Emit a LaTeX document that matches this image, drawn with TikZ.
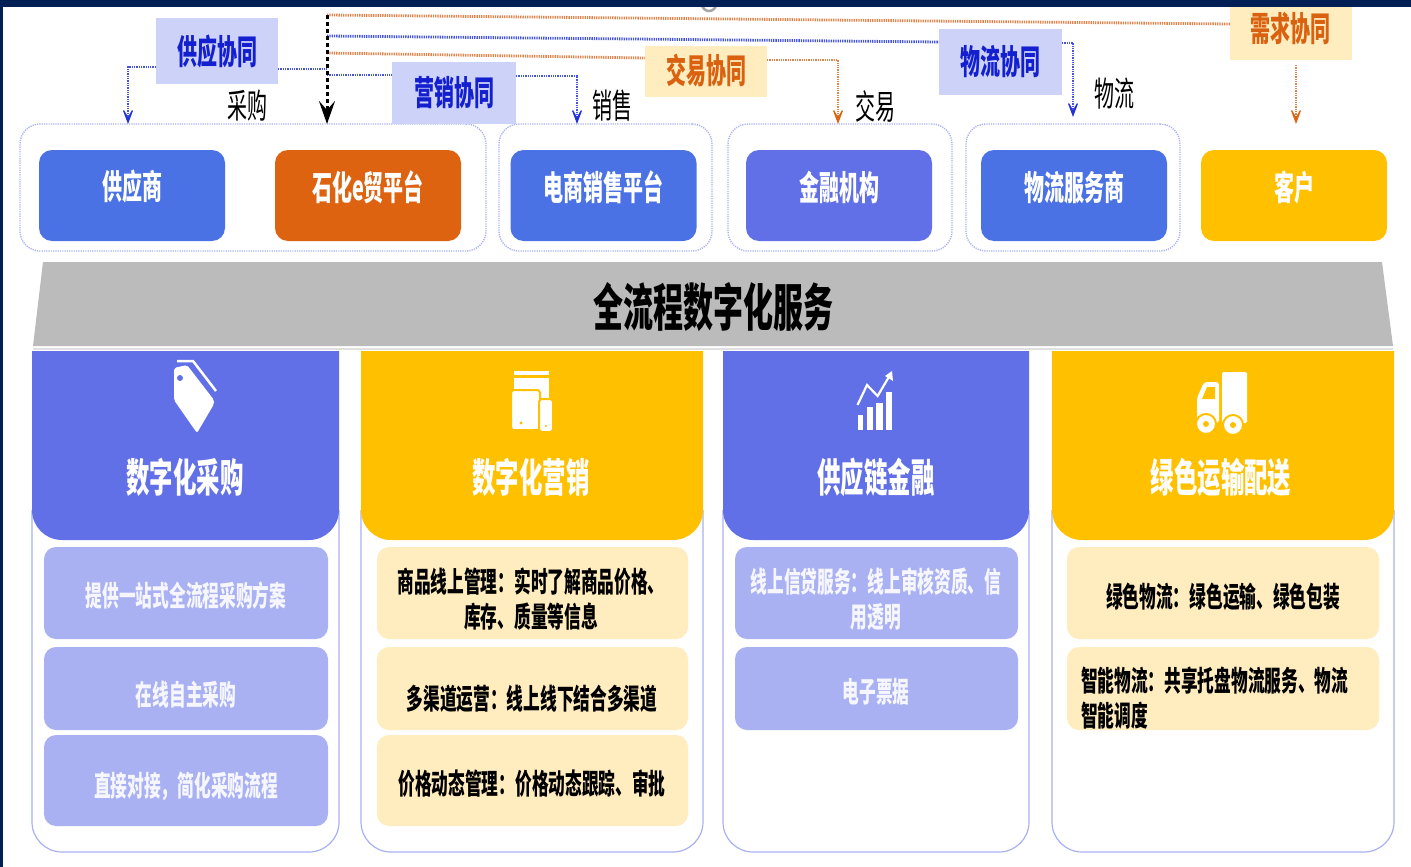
\documentclass[tikz,border=0pt]{standalone}
\usepackage{fontspec}
\setmainfont{Noto Sans CJK SC}
\usetikzlibrary{arrows.meta}
\definecolor{navy}{HTML}{001F55}
\definecolor{bluebox}{HTML}{4A72E4}
\definecolor{orangebox}{HTML}{DD6310}
\definecolor{indigobox}{HTML}{6270E8}
\definecolor{goldbox}{HTML}{FFC000}
\definecolor{lightindigo}{HTML}{A9B1F3}
\definecolor{cream}{HTML}{FFEDBF}
\definecolor{taglight}{HTML}{CDD3F8}
\definecolor{grayband}{HTML}{BBBBBB}
\definecolor{flowblue}{HTML}{4455DC}
\definecolor{floworange}{HTML}{E2844A}
\definecolor{tipblue}{HTML}{2233D8}
\definecolor{tiporange}{HTML}{DD6310}
\definecolor{tagblue}{HTML}{1420D0}
\definecolor{tagorange}{HTML}{D9610F}
\newcommand{\tallt}[1]{\scalebox{1}[1.7]{#1}}
\tikzset{
  x=1pt,y=-1pt,
  every node/.style={inner sep=0pt,outer sep=0pt},
  groupbox/.style={draw=lightindigo,line width=1.4pt,dash pattern=on 1.2pt off 1.1pt,rounded corners=20pt,anchor=north west},
  actor/.style={rounded corners=13pt,anchor=north west,minimum width=186pt,minimum height=91pt},
  actortext/.style={text=white,font=\fontsize{20}{24}\selectfont\bfseries},
  tagbox/.style={anchor=north west},
  tagtext/.style={font=\fontsize{20}{24}\selectfont\bfseries},
  lab/.style={font=\fontsize{20}{24}\selectfont,text=black},
  head/.style={text=white,font=\fontsize{23.4}{28}\selectfont\bfseries},
  itemtext/.style={font=\fontsize{16.7}{35}\selectfont\bfseries,align=center},
  flow/.style={line width=2.8pt,dash pattern=on 1.3pt off 1pt},
  tip/.style={-{Stealth[inset=13pt,length=20pt,width=15pt,line width=1.2pt,color=#1]}},
  card/.style={draw=lightindigo,line width=1.2pt,fill=white},
}
\begin{document}
\begin{tikzpicture}
\useasboundingbox (0,0) rectangle (1411,867);
\fill[white] (0,0) rectangle (1411,867);
\draw[gray!70,line width=2.5pt] (709,4) circle[radius=7];
\fill[navy] (0,0) rectangle (1411,7);
\fill[navy] (0,0) rectangle (3,867);

% dotted groups
\node[groupbox,minimum width=466pt,minimum height=127pt] (g1) at (20,124) {};
\node[groupbox,minimum width=213pt,minimum height=127pt] (g2) at (499,124) {};
\node[groupbox,minimum width=224pt,minimum height=127pt] (g3) at (728,124) {};
\node[groupbox,minimum width=214pt,minimum height=127pt] (g4) at (966,124) {};

% actors
\node[actor,fill=bluebox] (supplier) at (39,150) {};
\node[actor,fill=orangebox] (platform) at (275,150) {};
\node[actor,fill=bluebox] (ecom) at (510.5,150) {};
\node[actor,fill=indigobox] (bank) at (746,150) {};
\node[actor,fill=bluebox] (logi) at (981,150) {};
\node[actor,fill=goldbox] (client) at (1201,150) {};
\node[actortext] (supplierT) at ([yshift=8.5pt]supplier.center) {\tallt{供应商}};
\node[actortext] (platformT) at ([yshift=8.5pt]platform.center) {\tallt{石化e贸平台}};
\node[actortext] (ecomT) at ([yshift=8.5pt]ecom.center) {\tallt{电商销售平台}};
\node[actortext] (bankT) at ([yshift=8.5pt]bank.center) {\tallt{金融机构}};
\node[actortext] (logiT) at ([yshift=8.5pt]logi.center) {\tallt{物流服务商}};
\node[actortext] (clientT) at ([yshift=8.5pt]client.center) {\tallt{客户}};

% tags
\node[tagbox,fill=taglight,minimum width=122pt,minimum height=66pt] (tsupply) at (156,18) {};
\node[tagbox,fill=taglight,minimum width=124pt,minimum height=62pt] (tmarket) at (392,62) {};
\node[tagbox,fill=cream,minimum width=122pt,minimum height=51pt] (ttrade) at (645,46) {};
\node[tagbox,fill=taglight,minimum width=123pt,minimum height=66pt] (tlogi) at (939,29) {};
\node[tagbox,fill=cream,minimum width=122pt,minimum height=53pt] (tdemand) at (1230,7) {};
\node[tagtext,text=tagblue] (tsupplyT) at (217,52) {\tallt{供应协同}};
\node[tagtext,text=tagblue] (tmarketT) at (454,93) {\tallt{营销协同}};
\node[tagtext,text=tagorange] (ttradeT) at (706,70) {\tallt{交易协同}};
\node[tagtext,text=tagblue] (tlogiT) at (1000,62) {\tallt{物流协同}};
\node[tagtext,text=tagorange] (tdemandT) at (1290,28) {\tallt{需求协同}};

% labels
\node[lab] (lcg) at (247,106) {\tallt{采购}};
\node[lab] (lxs) at (612,106) {\tallt{销售}};
\node[lab] (ljy) at (875,107) {\tallt{交易}};
\node[lab] (lwl) at (1114,94) {\tallt{物流}};

% connectors
\coordinate (trunk) at (327,15);
\coordinate (trunkB) at (327,36);
\coordinate (trunkO) at (327,53);
\coordinate (trunkS) at (327,69);
\coordinate (trunkM) at (327,75);
\draw[flow,floworange] (trunk) -- (tdemand.west |- 0,24);
\draw[flow,flowblue] (trunkB) -- (tlogi.west |- 0,42);
\draw[flow,floworange] (trunkO) -- (ttrade.west |- 0,58);
\draw[flow,flowblue] (tsupply.east |- 0,69) -- (trunkS);
\draw[flow,flowblue] (trunkM) -- (tmarket.west |- 0,75);
\draw[flow,flowblue,tip=tipblue] (tsupply.west |- 0,67) -| (128,124);
\draw[flow,flowblue,tip=tipblue] (tmarket.east |- 0,76) -| (577,124);
\draw[flow,floworange,tip=tiporange] (ttrade.east |- 0,60) -| (838,124);
\draw[flow,flowblue,tip=tipblue] (tlogi.east |- 0,43) -| (1073,117);
\draw[flow,floworange,tip=tiporange] (1296,65) -- (1296,124);
\draw[line width=3pt,dash pattern=on 4pt off 3pt,black,-{Stealth[inset=9pt,length=23pt,width=16pt]}] (trunk) -- (g1.north -| trunk);

% banner
\fill[grayband] (43,262) -- (1382,262) -- (1393,346) -- (33,346) -- cycle;
\draw[black!12,line width=1.5pt] (33,349) -- (1393,349);
\node[font=\fontsize{30}{36}\selectfont\bfseries,text=black] (banner) at (713,307) {\tallt{全流程数字化服务}};

% cards
\foreach \xa/\xb/\col in {32/339/indigobox,361/703/goldbox,723/1029/indigobox,1052/1394/goldbox}{
  \path[card,rounded corners=30pt] (\xa,510) -- (\xa,852) -- (\xb,852) -- (\xb,510);
  \fill[\col] (\xa,351) -- (\xa,420) [rounded corners=30pt] -- (\xa,540) -- (\xb,540) -- (\xb,420) [sharp corners] -- (\xb,351) -- cycle;
}
\node[head] (h1) at (185,477) {\tallt{数字化采购}};
\node[head] (h2) at (531,477) {\tallt{数字化营销}};
\node[head] (h3) at (876,477) {\tallt{供应链金融}};
\node[head] (h4) at (1221,477) {\tallt{绿色运输配送}};

% items
\foreach \xa/\w/\col in {44/284/lightindigo,377/311/cream,735/283/lightindigo,1067/312/cream}{
  \fill[\col,rounded corners=12pt] (\xa,547) rectangle ++(\w,92);
  \fill[\col,rounded corners=12pt] (\xa,647) rectangle ++(\w,83);
}
\foreach \xa/\w/\col in {44/284/lightindigo,377/311/cream}{
  \fill[\col,rounded corners=12pt] (\xa,735) rectangle ++(\w,91);
}
\node[itemtext,text=white!90!lightindigo] (a1) at (186,596) {\tallt{提供一站式全流程采购方案}};
\node[itemtext,text=white!90!lightindigo] (a2) at (186,695) {\tallt{在线自主采购}};
\node[itemtext,text=white!90!lightindigo] (a3) at (186,786) {\tallt{直接对接，简化采购流程}};
\node[itemtext,text=black] (b1) at (531,599) {\tallt{商品线上管理：实时了解商品价格、}\\\tallt{库存、质量等信息}};
\node[itemtext,text=black] (b2) at (532,699) {\tallt{多渠道运营：线上线下结合多渠道}};
\node[itemtext,text=black] (b3) at (532,784) {\tallt{价格动态管理：价格动态跟踪、审批}};
\node[itemtext,text=white!90!lightindigo] (c1) at (876,599) {\tallt{线上信贷服务：线上审核资质、信}\\\tallt{用透明}};
\node[itemtext,text=white!90!lightindigo] (c2) at (876,692) {\tallt{电子票据}};
\node[itemtext,text=black] (d1) at (1223,597) {\tallt{绿色物流：绿色运输、绿色包装}};
\node[itemtext,text=black,align=left,anchor=west] (d2) at (1081,698) {\tallt{智能物流：共享托盘物流服务、物流}\\\tallt{智能调度}};

% tag icon
\fill[white,rounded corners=2pt] (174,372) -- (174,368) -- (187,365) -- (214,400) -- (214,404) -- (197,433) -- (174,400) -- cycle;
\fill[indigobox] (180,378) circle[radius=3];
\draw[white,line width=2.5pt] (177,361) -- (193,361) -- (216,391);
% devices icon
\fill[white] (514,371) rectangle (549,375);
\fill[white] (514,378) rectangle (549,398);
\fill[white,draw=goldbox,line width=2pt,rounded corners=3pt] (511,390) rectangle (540,430);
\fill[white,draw=goldbox,line width=2pt,rounded corners=3pt] (539,399) rectangle (553,432);
\fill[goldbox] (521,423) circle[radius=1.7];
\fill[goldbox] (546,426) circle[radius=1.2];
% chart icon
\fill[white] (857.5,415) rectangle (863,430);
\fill[white] (866.5,407) rectangle (873,430);
\fill[white] (876,403) rectangle (882.5,430);
\fill[white] (885.7,392) rectangle (892,430);
\draw[white,line width=2.2pt] (857.5,405) -- (867,385) -- (877.6,396) -- (890,375);
\fill[white] (892,371) -- (893,381) -- (885,376) -- cycle;
% truck icon
\fill[white,rounded corners=1.5pt] (1222,372) rectangle (1247,423);
\fill[white,rounded corners=3pt] (1197,423) -- (1197,398) -- (1204,382) -- (1219,382) -- (1219,423) -- cycle;
\fill[goldbox] (1202,399) -- (1207,387) -- (1215,387) -- (1215,399) -- cycle;
\fill[white,draw=goldbox,line width=2pt] (1206,424) circle[radius=10];
\fill[white,draw=goldbox,line width=2pt] (1233,425) circle[radius=10];
\fill[goldbox] (1206,424) circle[radius=3];
\fill[goldbox] (1233,425) circle[radius=3];
\end{tikzpicture}
\end{document}
